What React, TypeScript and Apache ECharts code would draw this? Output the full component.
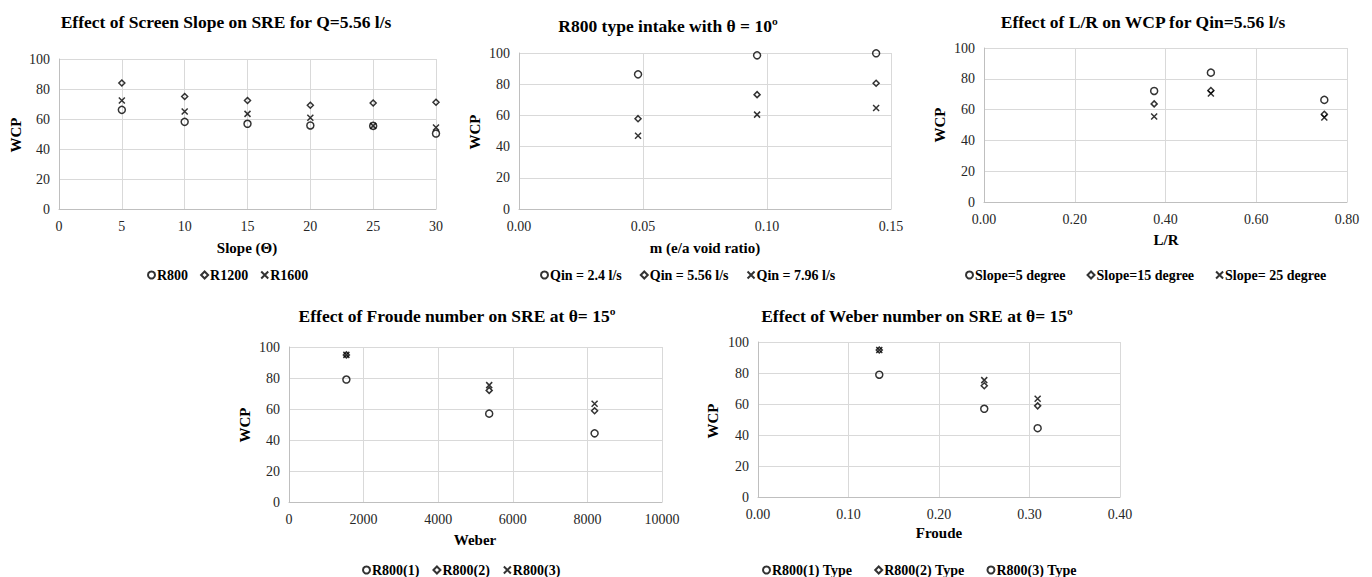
import React, { useEffect, useRef } from "react";
import * as echarts from "echarts";

// ---------- data ----------
const slopeX = [5, 10, 15, 20, 25, 30];
const r800 = [66.1, 58.1, 56.8, 55.7, 55.4, 50.3];
const r1200 = [84.0, 75.0, 72.3, 69.2, 70.7, 71.2];
const r1600 = [72.3, 65.0, 63.4, 60.8, 55.4, 54.3];

const voidX = [0.048, 0.096, 0.144];
const qin24 = [86.3, 98.5, 99.8];
const qin556 = [57.9, 73.3, 80.6];
const qin796 = [47.0, 60.5, 64.7];

const lrX = [0.375, 0.5, 0.75];
const slope5 = [72.1, 84.0, 66.3];
const slope15 = [63.7, 72.4, 57.0];
const slope25 = [55.5, 70.4, 54.9];

const weberX = [1538, 5367, 8193];
const weberR1 = [79.0, 57.0, 44.3];
const weberR2 = [94.9, 72.0, 58.9];
const weberR3 = [94.9, 75.4, 63.4];

const froudeX = [0.134, 0.25, 0.309];
const froudeR1 = [78.9, 56.9, 44.4];
const froudeR2 = [94.8, 71.8, 58.8];
const froudeR3 = [94.8, 75.4, 63.4];

const titles = [
  "Effect of Screen Slope on SRE for Q=5.56 l/s",
  "R800 type intake with \u03b8 = 10\u00ba",
  "Effect of L/R on WCP for Qin=5.56 l/s",
  "Effect of Froude number on SRE at \u03b8= 15\u00ba",
  "Effect of Weber number on SRE at \u03b8= 15\u00ba",
];
const xNames = ["Slope (\u0398)", "m (e/a void ratio)", "L/R", "Weber", "Froude"];
const yName = "WCP";
const xMin = [0, 0, 0, 0, 0];
const xMax = [30, 0.15, 0.8, 10000, 0.4];
const xInterval = [5, 0.05, 0.2, 2000, 0.1];
const xDecimals = [0, 2, 2, 0, 2];
const yTicks = { min: 0, max: 100, interval: 20 };

const seriesNames = [
  ["R800", "R1200", "R1600"],
  ["Qin = 2.4 l/s", "Qin = 5.56 l/s", "Qin = 7.96 l/s"],
  ["Slope=5 degree", "Slope=15 degree", "Slope= 25 degree"],
  ["R800(1)", "R800(2)", "R800(3)"],
  ["R800(1) Type", "R800(2) Type", "R800(3) Type"],
];
const xData = [slopeX, voidX, lrX, weberX, froudeX];
const yData = [
  [r800, r1200, r1600],
  [qin24, qin556, qin796],
  [slope5, slope15, slope25],
  [weberR1, weberR2, weberR3],
  [froudeR1, froudeR2, froudeR3],
];

// ---------- layout ----------
const FONT = '"Liberation Serif", "Times New Roman", serif';
const grids = [
  { left: 59, top: 59, width: 377, height: 150 },
  { left: 519, top: 53, width: 372, height: 156 },
  { left: 984, top: 48, width: 363, height: 154 },
  { left: 289, top: 347, width: 373, height: 155 },
  { left: 758, top: 342, width: 362, height: 155 },
];
const titlePos = [
  [226, 22],
  [668, 26],
  [1143, 22],
  [457, 316],
  [917, 316],
];
const xNamePos = [
  [247, 248],
  [705, 248],
  [1166, 240],
  [475, 540],
  [939, 533],
];
const yNamePos = [
  [16, 135],
  [475, 132],
  [940, 125],
  [245, 425],
  [713, 421],
];
const legendPos = [
  { left: 147, top: 268, gap: 12 },
  { left: 540, top: 268, gap: 18 },
  { left: 965, top: 268, gap: 21 },
  { left: 362, top: 563, gap: 13 },
  { left: 762, top: 563, gap: 22 },
];

const CROSS = "path://M0 0L10 10M10 0L0 10";
const symbols = ["circle", "diamond", CROSS];
const symbolSizes = [7, 6, 6];

export default function App() {
  const ref = useRef<HTMLDivElement>(null);
  useEffect(() => {
    document.body.style.margin = "0";
    if (!ref.current) return;
    const chart = echarts.init(ref.current, undefined, { renderer: "svg" });

    const xAxis: any[] = [];
    const yAxis: any[] = [];
    const series: any[] = [];
    const legend: any[] = [];
    const graphic: any[] = [];

    grids.forEach((g, i) => {
      xAxis.push({
        type: "value",
        gridIndex: i,
        min: xMin[i],
        max: xMax[i],
        interval: xInterval[i],
        axisLine: { show: true, lineStyle: { color: "#bfbfbf", width: 1 } },
        axisTick: { show: false },
        splitLine: { show: true, lineStyle: { color: "#d9d9d9", width: 1 } },
        axisLabel: {
          fontFamily: FONT,
          fontSize: 14,
          color: "#262626",
          margin: 10,
          formatter: (v: number) => v.toFixed(xDecimals[i]),
        },
      });
      yAxis.push({
        type: "value",
        gridIndex: i,
        min: yTicks.min,
        max: yTicks.max,
        interval: yTicks.interval,
        axisLine: { show: true, lineStyle: { color: "#bfbfbf", width: 1 } },
        axisTick: { show: false },
        splitLine: { show: true, lineStyle: { color: "#d9d9d9", width: 1 } },
        axisLabel: { fontFamily: FONT, fontSize: 14, color: "#262626", margin: 9 },
      });
      seriesNames[i].forEach((name, k) => {
        series.push({
          type: "scatter",
          name,
          xAxisIndex: i,
          yAxisIndex: i,
          symbol: symbols[k],
          symbolSize: symbolSizes[k],
          itemStyle: { color: "rgba(0,0,0,0)", borderColor: "#000", borderWidth: 1.5 },
          emphasis: { disabled: true },
          data: xData[i].map((x, j) => [x, yData[i][k][j]]),
        });
      });
      legend.push({
        left: legendPos[i].left,
        top: legendPos[i].top,
        padding: 0,
        itemGap: legendPos[i].gap,
        itemWidth: 7,
        itemHeight: 7,
        selectedMode: false,
        textStyle: { fontFamily: FONT, fontSize: 14, fontWeight: "bold", color: "#000", padding: [0, 0, 0, -3] },
        data: seriesNames[i].map((n, k) =>
          i === 4 && k === 2 ? { name: n, icon: "circle" } : { name: n }
        ),
      });
      graphic.push({
        type: "text",
        x: titlePos[i][0],
        y: titlePos[i][1],
        style: {
          text: titles[i],
          font: `bold 17.5px ${FONT}`,
          fill: "#000",
          textAlign: "center",
          textVerticalAlign: "middle",
        },
      });
      graphic.push({
        type: "text",
        x: xNamePos[i][0],
        y: xNamePos[i][1],
        style: {
          text: xNames[i],
          font: `bold 15px ${FONT}`,
          fill: "#000",
          textAlign: "center",
          textVerticalAlign: "middle",
        },
      });
      graphic.push({
        type: "text",
        x: yNamePos[i][0],
        y: yNamePos[i][1],
        rotation: Math.PI / 2,
        style: {
          text: yName,
          font: `bold 15px ${FONT}`,
          fill: "#000",
          textAlign: "center",
          textVerticalAlign: "middle",
        },
      });
    });

    chart.setOption({
      animation: false,
      backgroundColor: "#fff",
      grid: grids,
      xAxis,
      yAxis,
      series,
      legend,
      graphic,
    });
    return () => chart.dispose();
  }, []);
  return <div ref={ref} style={{ width: 1372, height: 577 }} />;
}
